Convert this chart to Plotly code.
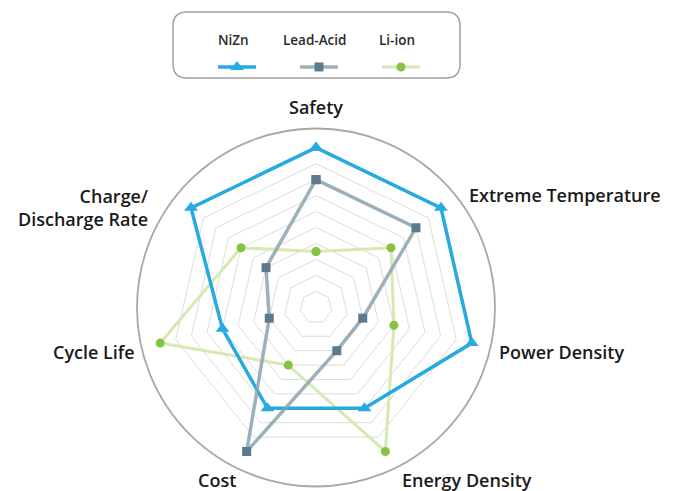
import plotly.graph_objects as go

categories = ["Safety", "Extreme Temperature", "Power Density", "Energy Density",
              "Cost", "Cycle Life", "Charge/<br>Discharge Rate"]
nizn = [10, 10, 10, 7, 7, 6, 10]
lead_acid = [8, 8, 3, 3, 10, 3, 4]
li_ion = [3.5, 6, 5, 10, 4, 10, 6]
series_names = ["NiZn", "Lead-Acid", "Li-ion"]
grid_levels = [1, 2, 3, 4, 5, 6, 7, 8, 9]
r_max = 11.2

W, H = 675, 491
OFF = 8  # page body margin offset of the rendered figure


def px(sx):
    return (sx - OFF) / W


def py(sy):
    return 1 - (sy - OFF) / H


cx, cy, R = 316, 307.5, 179

# label placement (screen px): x, y, xanchor
label_layout = [
    (316, 107, "center"),
    (467, 195, "left"),
    (497, 352, "left"),
    (400, 480, "left"),
    (238, 480, "right"),
    (137, 352, "right"),
    (150, 207, "right"),
]


def closed(v):
    return v + v[:1]


cats_closed = closed(categories)

fig = go.Figure()

# outer circle subplot (background)
fig.add_trace(go.Scatterpolar(r=[], theta=[], subplot="polar", showlegend=False, hoverinfo="skip"))

fig.add_trace(go.Scatterpolar(
    r=closed(li_ion), theta=cats_closed, subplot="polar2", name=series_names[2],
    mode="lines+markers", legendrank=3,
    line=dict(color="#D5E9B5", width=3),
    marker=dict(symbol="circle", size=9, color="#86C440"),
))
fig.add_trace(go.Scatterpolar(
    r=closed(nizn), theta=cats_closed, subplot="polar2", name=series_names[0],
    mode="lines+markers", legendrank=1,
    line=dict(color="#27A9E1", width=3.5),
    marker=dict(symbol="triangle-up", size=12, color="#27A9E1"),
))
fig.add_trace(go.Scatterpolar(
    r=closed(lead_acid), theta=cats_closed, subplot="polar2", name=series_names[1],
    mode="lines+markers", legendrank=2,
    line=dict(color="rgba(140,163,176,0.85)", width=3.5),
    marker=dict(symbol="square", size=9, color="#5B7A8E"),
))

dom_x = [px(cx - R), px(cx + R)]
dom_y = [py(cy + R), py(cy - R)]

label_font = dict(family="Open Sans", size=18, color="#1a1a1a", weight=600)

fig.update_layout(
    width=W, height=H,
    margin=dict(l=0, r=0, t=0, b=0),
    paper_bgcolor="white",
    polar=dict(
        domain=dict(x=dom_x, y=dom_y),
        bgcolor="rgba(0,0,0,0)",
        gridshape="circular",
        radialaxis=dict(visible=False, range=[0, r_max]),
        angularaxis=dict(showline=True, linecolor="#a8a8a8", linewidth=1.8,
                         showgrid=False, ticks="", showticklabels=False),
    ),
    polar2=dict(
        domain=dict(x=dom_x, y=dom_y),
        bgcolor="rgba(0,0,0,0)",
        gridshape="linear",
        radialaxis=dict(range=[0, r_max], tickvals=grid_levels, showticklabels=False,
                        showline=False, ticks="", gridcolor="#dcdcdc", gridwidth=1),
        angularaxis=dict(rotation=90, direction="clockwise", showline=False, showgrid=False,
                         ticks="", showticklabels=False),
    ),
    showlegend=True,
    legend=dict(orientation="h", x=px(213), xanchor="left", y=py(52), yanchor="top",
                itemwidth=38, entrywidth=29, entrywidthmode="pixels",
                font=dict(size=13, color="rgba(0,0,0,0)"), bgcolor="rgba(0,0,0,0)",
                itemclick=False, itemdoubleclick=False),
)

# category labels
for cat, (lx, ly, anc) in zip(categories, label_layout):
    fig.add_annotation(text=cat, x=px(lx), y=py(ly), xref="paper", yref="paper",
                       showarrow=False, xanchor=anc, yanchor="middle",
                       align=anc if anc != "center" else "center",
                       font=label_font)

# legend frame with rounded corners
x0, x1 = px(173), px(460)
y0, y1 = py(78), py(12)
rx, ry = 14 / W, 14 / H
path = (f"M {x0+rx},{y1} L {x1-rx},{y1} Q {x1},{y1} {x1},{y1-ry} "
        f"L {x1},{y0+ry} Q {x1},{y0} {x1-rx},{y0} L {x0+rx},{y0} "
        f"Q {x0},{y0} {x0},{y0+ry} L {x0},{y1-ry} Q {x0},{y1} {x0+rx},{y1} Z")
fig.add_shape(type="path", path=path, xref="paper", yref="paper",
              line=dict(color="#a0a0a0", width=1.5), fillcolor="rgba(0,0,0,0)", layer="below")

for name, xc in zip(series_names, [234, 315, 397]):
    fig.add_annotation(text=name, x=px(xc), y=py(40), xref="paper", yref="paper",
                       showarrow=False, xanchor="center", yanchor="middle",
                       font=dict(family="Open Sans", size=13.5, color="#2b2b2b", weight=600))

fig.write_html("out.html")
